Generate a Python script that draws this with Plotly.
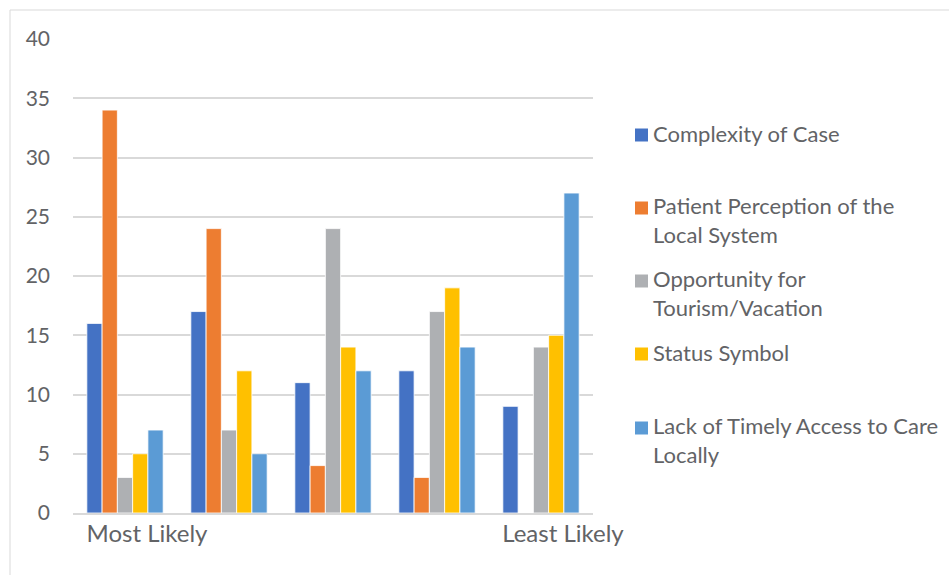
import plotly.graph_objects as go

# ---- data ----
categories = ["Most Likely", "", "", "", "Least Likely"]
series_names = [
    "Complexity of Case",
    "Patient Perception of the Local System",
    "Opportunity for Tourism/Vacation",
    "Status Symbol",
    "Lack of Timely Access to Care Locally",
]
legend_labels = [
    "Complexity of Case",
    "Patient Perception of the<br>Local System",
    "Opportunity for<br>Tourism/Vacation",
    "Status Symbol",
    "Lack of Timely Access to Care<br>Locally",
]
complexity = [16, 17, 11, 12, 9]
perception = [34, 24, 4, 3, 0]
tourism = [3, 7, 24, 17, 14]
status = [5, 12, 14, 19, 15]
timely = [7, 5, 12, 14, 27]
y_ticks = [0, 5, 10, 15, 20, 25, 30, 35, 40]

values = [complexity, perception, tourism, status, timely]
colors = ["#4472C4", "#ED7D31", "#AEB0B3", "#FFC000", "#5B9BD5"]

FONT = "Lato"
FS = 21
TXT = "#626366"

W, H = 949, 575
L, R, T, B = 73, 593, 39, 513
pw, ph = R - L, B - T

x_idx = list(range(len(categories)))

fig = go.Figure()
for name, vals, col in zip(series_names, values, colors):
    fig.add_trace(go.Bar(
        x=x_idx, y=vals, name=name,
        marker=dict(color=col, line=dict(color="white", width=0.8)),
        showlegend=False,
    ))

def px_to_paper_x(px):
    return (px - L) / pw

def px_to_paper_y(py):
    return (B - py) / ph

shapes = []
annotations = []
# outer chart border (left and top visible)
shapes.append(dict(type="rect", xref="paper", yref="paper",
                   x0=px_to_paper_x(10), x1=px_to_paper_x(W + 20),
                   y0=px_to_paper_y(H + 20), y1=px_to_paper_y(10),
                   line=dict(color="#D9D9D9", width=1), fillcolor="rgba(0,0,0,0)",
                   layer="below"))

# manual legend
first_line_centers = [135, 208, 281, 354, 428]
LFS = 22
lineh = 28.6
for lab, col, cy in zip(legend_labels, colors, first_line_centers):
    nlines = lab.count("<br>") + 1
    shapes.append(dict(type="rect", xref="paper", yref="paper",
                       x0=px_to_paper_x(635), x1=px_to_paper_x(648),
                       y0=px_to_paper_y(cy + 6.5), y1=px_to_paper_y(cy - 6.5),
                       fillcolor=col, line=dict(width=0)))
    center = cy - 2 + (nlines - 1) * lineh / 2
    annotations.append(dict(xref="paper", yref="paper",
                            x=px_to_paper_x(651), y=px_to_paper_y(center),
                            xanchor="left", yanchor="middle", align="left",
                            text=lab, showarrow=False,
                            font=dict(family=FONT, size=LFS, color=TXT)))

fig.update_layout(
    width=W, height=H,
    margin=dict(l=L, r=W - R, t=T, b=H - B, pad=0),
    paper_bgcolor="white", plot_bgcolor="white",
    barmode="group", bargap=0.266, bargroupgap=0,
    font=dict(family=FONT, size=FS, color=TXT),
    shapes=shapes, annotations=annotations,
    showlegend=False,
)
fig.update_xaxes(
    tickmode="array", tickvals=x_idx, ticktext=categories,
    range=[-0.5, len(categories) - 0.5],
    showline=True, linecolor="#D9D9D9", linewidth=1.5,
    showgrid=False, ticks="", ticklabelshift=22, ticklabelstandoff=-2,
    tickfont=dict(family=FONT, size=24, color=TXT),
)
fig.update_yaxes(
    range=[0, 40], tickmode="array", tickvals=y_ticks,
    showgrid=True, gridcolor="#D9D9D9", gridwidth=1.5,
    zeroline=False, showline=False, ticks="",
    ticklabelstandoff=22,
    tickfont=dict(family=FONT, size=FS, color=TXT),
)

fig.write_html("out.html")
